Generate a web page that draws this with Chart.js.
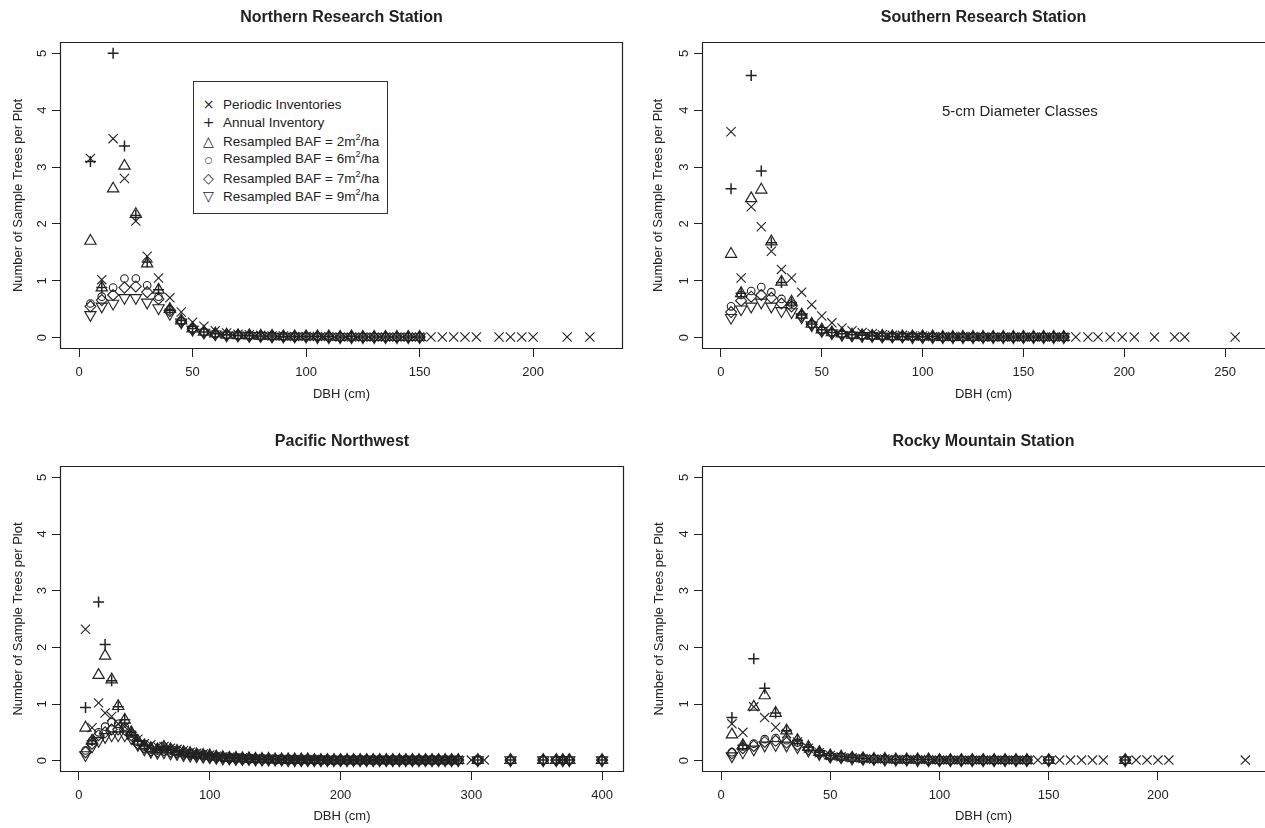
<!DOCTYPE html>
<html lang="en">
<head>
<meta charset="UTF-8">
<title>Sample Trees per Plot by DBH</title>
<script src="https://cdn.jsdelivr.net/npm/chart.js"></script>
<style>
  body { margin: 0; background: #fff; font-family: "Liberation Sans", Arial, sans-serif; overflow: hidden; }
  .panel { position: absolute; }
  #legend {
    position: absolute; left: 193px; top: 81px; width: 195px; height: 133px;
    border: 1px solid #333; box-sizing: border-box; background: #fff;
    font-size: 13.5px; color: #222;
  }
  #legend div { position: absolute; left: 0; height: 18px; line-height: 18px; white-space: nowrap; }
  #legend .sym { display: inline-block; width: 29px; text-align: center; font-family: "DejaVu Sans", sans-serif; font-size: 14px; }
  #legend sup { font-size: 9px; vertical-align: 6px; line-height: 0; }
</style>
</head>
<body>

<canvas id="north" class="panel" width="632" height="414" style="left:0;top:0"></canvas>
<canvas id="south" class="panel" width="633" height="414" style="left:632px;top:0"></canvas>
<canvas id="pacific" class="panel" width="632" height="414" style="left:0;top:414px"></canvas>
<canvas id="rocky" class="panel" width="633" height="414" style="left:632px;top:414px"></canvas>

<div id="legend">
  <div style="top:13px"><span class="sym">&#215;</span>Periodic Inventories</div>
  <div style="top:31px"><span class="sym">+</span>Annual Inventory</div>
  <div style="top:50px"><span class="sym">&#9651;</span>Resampled BAF = 2m<sup>2</sup>/ha</div>
  <div style="top:68px"><span class="sym" style="font-size:9px">&#9675;</span>Resampled BAF = 6m<sup>2</sup>/ha</div>
  <div style="top:87px"><span class="sym">&#9671;</span>Resampled BAF = 7m<sup>2</sup>/ha</div>
  <div style="top:105px"><span class="sym">&#9661;</span>Resampled BAF = 9m<sup>2</sup>/ha</div>
</div>

<script>
// 5-cm diameter class midpoints (cm)
const DBH = [5,10,15,20,25,30,35,40,45,50,
             55,60,65,70,75,80,85,90,95,100,
             105,110,115,120,125,130,135,140,145,150,
             155,160,165,170,175,180,185,190,195,200,
             205,210,215,220,225,230,235,240,245,250,
             255,260,265,270,275,280,285,290];
const Y_TICKS = [0, 1, 2, 3, 4, 5];
const X_TICKS_N = [0, 50, 100, 150, 200];
const X_TICKS_S = [0, 50, 100, 150, 200, 250];
const X_TICKS_P = [0, 100, 200, 300, 400];
const X_TICKS_R = [0, 50, 100, 150, 200];

// ---- Northern Research Station ----
const periodicN = [3.15,1.02,3.5,2.8,2.05,1.43,1.05,0.7,0.45,0.27,
                   0.2,0.12,0.08,0.06,0.05,0.04,0.03,0.03,0.02,0.02,
                   0.02,0.02,0.01,0.01,0.01,0.01,0.01,0.01,0.01,0.01];
const periodicNTailX = [155,160,165,170,175,185,190,195,200,215,225];
const periodicNTail  = [0.01,0.01,0.01,0.01,0.01,0.01,0.01,0.01,0.01,0.01,0.01];
const annualN = [3.1,0.88,5.0,3.37,2.15,1.33,0.84,0.5,0.3,0.16,
                 0.1,0.07,0.05,0.04,0.04,0.03,0.03,0.02,0.02,0.02,
                 0.02,0.02,0.01,0.02,0.01,0.01,0.01,0.01,0.01,0.01];
const baf2N = [1.7,0.88,2.62,3.02,2.17,1.3,0.84,0.5,0.3,0.16,
               0.1,0.07,0.05,0.04,0.04,0.03,0.03,0.02,0.02,0.02,
               0.02,0.02,0.01,0.02,0.01,0.01,0.01,0.01,0.01,0.01];
const baf6N = [0.6,0.72,0.88,1.04,1.04,0.92,0.72,0.5,0.3,0.16,
               0.1,0.07,0.05,0.04,0.04,0.03,0.03,0.02,0.02,0.02,
               0.02,0.02,0.01,0.01,0.01,0.01,0.01,0.01,0.01,0.01];
const baf7N = [0.55,0.66,0.75,0.88,0.9,0.8,0.68,0.47,0.28,0.15,
               0.09,0.06,0.05,0.04,0.03,0.03,0.02,0.02,0.02,0.02,
               0.02,0.01,0.01,0.01,0.01,0.01,0.01,0.01,0.01,0.01];
const baf9N = [0.4,0.55,0.6,0.7,0.7,0.62,0.52,0.42,0.27,0.14,
               0.09,0.06,0.04,0.04,0.03,0.03,0.02,0.02,0.02,0.02,
               0.01,0.01,0.01,0.01,0.01,0.01,0.01,0.01,0.01,0.01];

// ---- Southern Research Station ----
const periodicS = [3.62,1.05,2.3,1.95,1.52,1.2,1.05,0.8,0.58,0.38,
                   0.26,0.17,0.12,0.09,0.07,0.05,0.04,0.04,0.03,0.03,
                   0.02,0.02,0.02,0.02,0.02,0.01,0.01,0.01,0.01,0.01,
                   0.01,0.01,0.01,0.01];
const periodicSTailX = [176,182,187,193,199,205,215,225,230,255];
const periodicSTail  = [0.01,0.01,0.01,0.01,0.01,0.01,0.01,0.01,0.01,0.01];
const annualS = [2.62,0.78,4.61,2.93,1.67,0.97,0.62,0.4,0.24,0.14,
                 0.09,0.07,0.05,0.04,0.03,0.03,0.02,0.02,0.02,0.02,
                 0.02,0.01,0.01,0.01,0.01,0.01,0.01,0.01,0.01,0.01,
                 0.01,0.01,0.01,0.01];
const baf2S = [1.47,0.78,2.45,2.6,1.69,0.98,0.63,0.4,0.24,0.14,
               0.09,0.07,0.05,0.04,0.03,0.03,0.02,0.02,0.02,0.02,
               0.02,0.01,0.01,0.01,0.01,0.01,0.01,0.01,0.01,0.01,
               0.01,0.01,0.01,0.01];
const baf6S = [0.55,0.75,0.82,0.89,0.8,0.68,0.6,0.4,0.24,0.13,
               0.09,0.06,0.05,0.04,0.03,0.03,0.02,0.02,0.02,0.02,
               0.02,0.01,0.01,0.01,0.01,0.01,0.01,0.01,0.01,0.01,
               0.01,0.01,0.01,0.01];
const baf7S = [0.45,0.65,0.72,0.75,0.7,0.6,0.55,0.38,0.23,0.12,
               0.08,0.06,0.04,0.04,0.03,0.02,0.02,0.02,0.02,0.01,
               0.01,0.01,0.01,0.01,0.01,0.01,0.01,0.01,0.01,0.01,
               0.01,0.01,0.01,0.01];
const baf9S = [0.35,0.5,0.55,0.62,0.55,0.47,0.45,0.36,0.22,0.12,
               0.08,0.05,0.04,0.03,0.03,0.02,0.02,0.02,0.01,0.01,
               0.01,0.01,0.01,0.01,0.01,0.01,0.01,0.01,0.01,0.01,
               0.01,0.01,0.01,0.01];

// ---- Pacific Northwest ----
const periodicP = [2.32,0.58,1.02,0.84,0.78,0.65,0.6,0.45,0.38,0.3,
                   0.28,0.25,0.25,0.22,0.2,0.18,0.15,0.13,0.12,0.1,
                   0.08,0.07,0.06,0.05,0.05,0.04,0.04,0.03,0.03,0.03,
                   0.02,0.02,0.02,0.02,0.02,0.02,0.02,0.01,0.01,0.01,
                   0.01,0.01,0.01,0.01,0.01,0.01,0.01,0.01,0.01,0.01,
                   0.01,0.01,0.01,0.01,0.01,0.01,0.01,0.01];
const periodicPTailX = [300,310];
const periodicPTail  = [0.01,0.01];
const annualP = [0.94,0.35,2.8,2.05,1.41,0.95,0.72,0.5,0.35,0.27,
                 0.22,0.2,0.24,0.2,0.17,0.15,0.13,0.11,0.1,0.09,
                 0.07,0.06,0.05,0.05,0.04,0.04,0.03,0.03,0.03,0.02,
                 0.02,0.02,0.02,0.02,0.02,0.01,0.01,0.01,0.01,0.01,
                 0.01,0.01,0.01,0.01,0.01,0.01,0.01,0.01,0.01,0.01,
                 0.01,0.01,0.01,0.01,0.01,0.01,0.01,0.01];
const baf2P = [0.58,0.35,1.51,1.85,1.43,0.96,0.72,0.5,0.35,0.27,
               0.22,0.2,0.24,0.2,0.17,0.15,0.13,0.11,0.1,0.09,
               0.07,0.06,0.05,0.05,0.04,0.04,0.03,0.03,0.03,0.02,
               0.02,0.02,0.02,0.02,0.02,0.01,0.01,0.01,0.01,0.01,
               0.01,0.01,0.01,0.01,0.01,0.01,0.01,0.01,0.01,0.01,
               0.01,0.01,0.01,0.01,0.01,0.01,0.01,0.01];
const baf6P = [0.18,0.35,0.5,0.6,0.68,0.65,0.6,0.48,0.33,0.25,
               0.2,0.18,0.2,0.18,0.15,0.13,0.12,0.1,0.09,0.08,
               0.06,0.05,0.05,0.04,0.04,0.03,0.03,0.03,0.02,0.02,
               0.02,0.02,0.02,0.02,0.01,0.01,0.01,0.01,0.01,0.01,
               0.01,0.01,0.01,0.01,0.01,0.01,0.01,0.01,0.01,0.01,
               0.01,0.01,0.01,0.01,0.01,0.01,0.01,0.01];
const baf7P = [0.15,0.3,0.45,0.5,0.55,0.55,0.55,0.45,0.3,0.23,
               0.18,0.16,0.18,0.16,0.14,0.12,0.11,0.09,0.08,0.07,
               0.06,0.05,0.04,0.04,0.03,0.03,0.03,0.02,0.02,0.02,
               0.02,0.02,0.02,0.01,0.01,0.01,0.01,0.01,0.01,0.01,
               0.01,0.01,0.01,0.01,0.01,0.01,0.01,0.01,0.01,0.01,
               0.01,0.01,0.01,0.01,0.01,0.01,0.01,0.01];
const baf9P = [0.1,0.25,0.35,0.42,0.45,0.45,0.45,0.4,0.28,0.2,
               0.16,0.14,0.15,0.13,0.12,0.1,0.09,0.08,0.07,0.06,
               0.05,0.04,0.04,0.03,0.03,0.03,0.02,0.02,0.02,0.02,
               0.02,0.01,0.01,0.01,0.01,0.01,0.01,0.01,0.01,0.01,
               0.01,0.01,0.01,0.01,0.01,0.01,0.01,0.01,0.01,0.01,
               0.01,0.01,0.01,0.01,0.01,0.01,0.01,0.01];
const resampledPTailX = [305,330,355,365,370,375,400];
const resampledPTail  = [0.01,0.01,0.01,0.01,0.01,0.01,0.01];

// ---- Rocky Mountain Station ----
const periodicR = [0.65,0.5,0.95,0.76,0.59,0.48,0.33,0.22,0.14,0.09,
                   0.07,0.05,0.04,0.03,0.03,0.02,0.02,0.02,0.02,0.01,
                   0.01,0.01,0.01,0.01,0.01,0.01,0.01,0.01];
const periodicRTailX = [145,155,160,165,170,175,190,195,200,205,240];
const periodicRTail  = [0.01,0.01,0.01,0.01,0.01,0.01,0.01,0.01,0.01,0.01,0.01];
const annualR = [0.76,0.27,1.8,1.28,0.84,0.53,0.36,0.24,0.15,0.09,
                 0.07,0.05,0.04,0.03,0.03,0.02,0.02,0.02,0.02,0.01,
                 0.01,0.01,0.01,0.01,0.01,0.01,0.01,0.01];
const baf2R = [0.46,0.27,0.95,1.15,0.84,0.53,0.36,0.24,0.15,0.09,
               0.07,0.05,0.04,0.03,0.03,0.02,0.02,0.02,0.02,0.01,
               0.01,0.01,0.01,0.01,0.01,0.01,0.01,0.01];
const baf6R = [0.15,0.25,0.3,0.38,0.4,0.36,0.32,0.22,0.14,0.09,
               0.07,0.05,0.04,0.03,0.03,0.02,0.02,0.02,0.01,0.01,
               0.01,0.01,0.01,0.01,0.01,0.01,0.01,0.01];
const baf7R = [0.13,0.22,0.26,0.33,0.35,0.32,0.28,0.2,0.13,0.08,
               0.06,0.05,0.04,0.03,0.02,0.02,0.02,0.02,0.01,0.01,
               0.01,0.01,0.01,0.01,0.01,0.01,0.01,0.01];
const baf9R = [0.08,0.15,0.2,0.27,0.28,0.27,0.24,0.18,0.12,0.07,
               0.06,0.04,0.03,0.03,0.02,0.02,0.02,0.01,0.01,0.01,
               0.01,0.01,0.01,0.01,0.01,0.01,0.01,0.01];
const resampledRTailX = [150,185];
const resampledRTail  = [0.01,0.01];

const INK = '#222';
const FONT = '"Liberation Sans", Arial, sans-serif';

// symbol for each series, same order as the legend
const MARKS = [
  { label: 'Periodic Inventories', pointStyle: 'crossRot', r: 6.5, w: 1.1 },
  { label: 'Annual Inventory', pointStyle: 'cross', r: 5.5, w: 1.5 },
  { label: 'Resampled BAF = 2m2/ha', pointStyle: 'triangle', r: 6.5, w: 1.2 },
  { label: 'Resampled BAF = 6m2/ha', pointStyle: 'circle', r: 3.8, w: 1.1 },
  { label: 'Resampled BAF = 7m2/ha', pointStyle: 'rectRot', r: 5.5, w: 1.1 },
  { label: 'Resampled BAF = 9m2/ha', pointStyle: 'triangle', r: 6.5, w: 1.1, rot: 180 }
];

function pts(xs, ys) {
  return ys.map((v, i) => ({ x: xs[i], y: v }));
}

// box round the plot (open on the right where the figure is cropped),
// rotated y tick labels, panel title and note
const rFrame = {
  id: 'rFrame',
  afterDraw(chart, args, o) {
    const { ctx, chartArea: a } = chart;
    const L = Math.round(a.left) + 0.5, T = Math.round(a.top) + 0.5;
    const R = Math.round(a.right) - 0.5, B = Math.round(a.bottom) - 0.5;
    ctx.save();
    ctx.strokeStyle = INK;
    ctx.lineWidth = 1.2;
    ctx.beginPath();
    if (o.cropped) {
      ctx.moveTo(R + 1, T); ctx.lineTo(L, T); ctx.lineTo(L, B); ctx.lineTo(R + 1, B);
    } else {
      ctx.rect(L, T, R - L, B - T);
    }
    ctx.stroke();

    const ys = chart.scales.y;
    ctx.fillStyle = INK;
    ctx.font = '13px ' + FONT;
    ctx.textAlign = 'center';
    ctx.textBaseline = 'middle';
    ys.ticks.forEach(t => {
      ctx.save();
      ctx.translate(a.left - 18, ys.getPixelForValue(t.value));
      ctx.rotate(-Math.PI / 2);
      ctx.fillText(t.label, 0, 0);
      ctx.restore();
    });

    ctx.font = 'bold 16px ' + FONT;
    ctx.fillText(o.title, (a.left + a.right) / 2, a.top - 24);
    if (o.note) {
      ctx.font = '15px ' + FONT;
      ctx.textAlign = 'left';
      ctx.fillText(o.note, o.noteX, o.noteY);
    }
    ctx.restore();
  }
};

function makePanel(id, p, series) {
  const datasets = series.map((data, k) => {
    const m = MARKS[k];
    return {
      label: m.label,
      data: data,
      pointStyle: m.pointStyle,
      pointRadius: m.r,
      pointBorderWidth: m.w,
      pointRotation: m.rot || 0,
      pointBorderColor: INK,
      pointBackgroundColor: 'rgba(0,0,0,0)',
      showLine: false
    };
  });
  const canvas = document.getElementById(id);
  const tickFont = { family: FONT, size: 13 };
  return new Chart(canvas, {
    type: 'scatter',
    data: { datasets },
    plugins: [rFrame],
    options: {
      responsive: false,
      animation: false,
      devicePixelRatio: 1,
      layout: {
        autoPadding: false,
        padding: { left: 0, top: p.area.t, right: canvas.width - p.area.r, bottom: 0 }
      },
      plugins: {
        legend: { display: false },
        tooltip: { enabled: false },
        rFrame: { title: p.title, note: p.note, noteX: p.noteX, noteY: p.noteY,
                  cropped: p.area.r >= canvas.width }
      },
      scales: {
        x: {
          type: 'linear',
          min: p.xr[0], max: p.xr[1],
          afterBuildTicks: s => { s.ticks = p.xTicks.map(v => ({ value: v })); },
          afterFit: s => { s.height = canvas.height - p.area.b; },
          border: { display: false },
          grid: { drawOnChartArea: false, drawTicks: true, tickLength: 8, color: INK, tickWidth: 1 },
          ticks: { color: INK, padding: 8, font: tickFont, callback: v => String(v) },
          title: { display: true, text: 'DBH (cm)', color: INK, font: tickFont,
                   padding: { top: 0, bottom: canvas.height - p.xTitleY - 7.8 } }
        },
        y: {
          type: 'linear',
          min: -0.2, max: 5.2,
          afterBuildTicks: s => { s.ticks = Y_TICKS.map(v => ({ value: v })); },
          afterFit: s => { s.width = p.area.l; },
          border: { display: false },
          grid: { drawOnChartArea: false, drawTicks: true, tickLength: 8, color: INK, tickWidth: 1 },
          ticks: { color: 'rgba(0,0,0,0)', font: tickFont, callback: v => String(v) },
          title: { display: true, text: 'Number of Sample Trees per Plot', color: INK, font: tickFont,
                   padding: { top: p.yTitleX - 7.8, bottom: 0 } }
        }
      }
    }
  });
}

makePanel('north', {
  title: 'Northern Research Station', xTicks: X_TICKS_N,
  area: { l: 60, r: 623, t: 42, b: 349 }, xr: [-8.4, 239.6], xTitleY: 394, yTitleX: 18
}, [
  pts(DBH, periodicN).concat(pts(periodicNTailX, periodicNTail)),
  pts(DBH, annualN), pts(DBH, baf2N), pts(DBH, baf6N), pts(DBH, baf7N), pts(DBH, baf9N)
]);

makePanel('south', {
  title: 'Southern Research Station', xTicks: X_TICKS_S,
  note: '5-cm Diameter Classes', noteX: 310, noteY: 112,
  area: { l: 70, r: 633, t: 42, b: 349 }, xr: [-9.4, 269.8], xTitleY: 394, yTitleX: 26
}, [
  pts(DBH, periodicS).concat(pts(periodicSTailX, periodicSTail)),
  pts(DBH, annualS), pts(DBH, baf2S), pts(DBH, baf6S), pts(DBH, baf7S), pts(DBH, baf9S)
]);

makePanel('pacific', {
  title: 'Pacific Northwest', xTicks: X_TICKS_P,
  area: { l: 60, r: 624, t: 52, b: 358 }, xr: [-14.5, 416.8], xTitleY: 402, yTitleX: 18
}, [
  pts(DBH, periodicP).concat(pts(periodicPTailX, periodicPTail)),
  pts(DBH, annualP).concat(pts(resampledPTailX, resampledPTail)),
  pts(DBH, baf2P).concat(pts(resampledPTailX, resampledPTail)),
  pts(DBH, baf6P).concat(pts(resampledPTailX, resampledPTail)),
  pts(DBH, baf7P).concat(pts(resampledPTailX, resampledPTail)),
  pts(DBH, baf9P).concat(pts(resampledPTailX, resampledPTail))
]);

makePanel('rocky', {
  title: 'Rocky Mountain Station', xTicks: X_TICKS_R,
  area: { l: 70, r: 633, t: 52, b: 358 }, xr: [-8.7, 249], xTitleY: 402, yTitleX: 27
}, [
  pts(DBH, periodicR).concat(pts(periodicRTailX, periodicRTail)),
  pts(DBH, annualR).concat(pts(resampledRTailX, resampledRTail)),
  pts(DBH, baf2R).concat(pts(resampledRTailX, resampledRTail)),
  pts(DBH, baf6R).concat(pts(resampledRTailX, resampledRTail)),
  pts(DBH, baf7R).concat(pts(resampledRTailX, resampledRTail)),
  pts(DBH, baf9R).concat(pts(resampledRTailX, resampledRTail))
]);
</script>
</body>
</html>
